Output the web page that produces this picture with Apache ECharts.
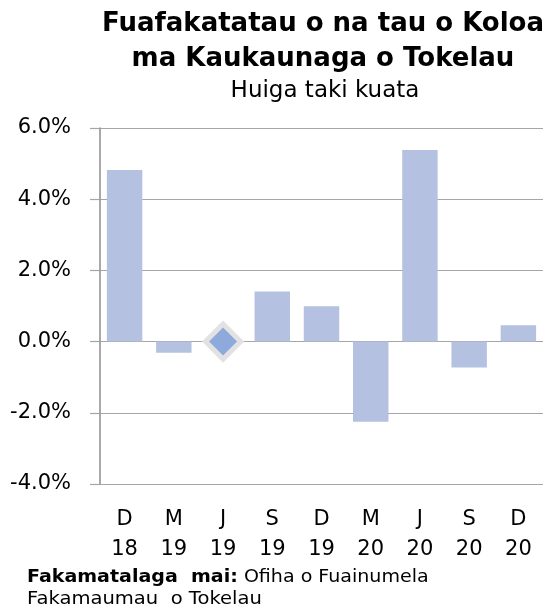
<!DOCTYPE html>
<html>
<head>
<meta charset="utf-8">
<script src="https://cdn.jsdelivr.net/npm/echarts@6/dist/echarts.min.js"></script>
<style>html,body{margin:0;padding:0;background:#fff}#c{width:546px;height:609px}</style>
</head>
<body>
<div id="c"></div>
<script>
const categories = ['D\n18', 'M\n19', 'J\n19', 'S\n19', 'D\n19', 'M\n20', 'J\n20', 'S\n20', 'D\n20'];
const barValues = [4.82, -0.31, null, 1.41, 0.99, -2.25, 5.38, -0.73, 0.46];
const markerValues = [null, null, 0.0, null, null, null, null, null, null];
const yTicks = { min: -4, max: 6, interval: 2 };
const titleText = 'Fuafakatatau o na tau o Koloa\nma Kaukaunaga o Tokelau';
const subtitleText = 'Huiga taki kuata';
const sourceLabel = 'Fakamatalaga  mai:';
const sourceText1 = ' Ofiha o Fuainumela';
const sourceText2 = 'Fakamaumau  o Tokelau';

const F = 'DejaVu Sans';
const chart = echarts.init(document.getElementById('c'));
chart.setOption({
  animation: false,
  backgroundColor: '#ffffff',
  title: [
    { text: titleText, left: 318, top: 2, textAlign: 'center',
      textStyle: { fontFamily: F, fontSize: 26, fontWeight: 'bold', color: '#000', lineHeight: 35 } },
    { text: subtitleText, left: 320, top: 72, textAlign: 'center',
      textStyle: { fontFamily: F, fontSize: 23, fontWeight: 'normal', color: '#000', lineHeight: 28 } }
  ],
  grid: { left: 100, right: 3, top: 128, bottom: 125, containLabel: false },
  xAxis: {
    type: 'category',
    data: categories,
    axisLine: { show: false },
    axisTick: { show: false },
    axisLabel: { fontFamily: F, fontSize: 21, color: '#000', lineHeight: 30, margin: 21, interval: 0 }
  },
  yAxis: {
    type: 'value',
    min: yTicks.min, max: yTicks.max, interval: yTicks.interval,
    axisLine: { show: true, lineStyle: { color: '#8c8c8c', width: 1.5 } },
    axisTick: { show: true, inside: false, length: 10, lineStyle: { color: '#a6a6a6', width: 1.2 } },
    splitLine: { show: true, lineStyle: { color: '#a6a6a6', width: 1.2 } },
    axisLabel: { fontFamily: F, fontSize: 21, color: '#000', margin: 29,
      formatter: v => v.toFixed(1) + '%' }
  },
  series: [
    { type: 'bar', data: barValues, barCategoryGap: '28%',
      itemStyle: { color: '#b4c1e1' }, z: 2 },
    { type: 'scatter', data: markerValues, symbol: 'diamond', symbolSize: 35,
      itemStyle: { color: '#8eaadc', borderColor: '#e2e2e2', borderWidth: 5, opacity: 1 }, z: 3 }
  ],
  graphic: [
    { type: 'text', x: 27, y: 569, scaleX: 1.12,
      style: { text: '{b|' + sourceLabel + '}{n|' + sourceText1 + '}', rich: {
        b: { fontFamily: F, fontSize: 17, fontWeight: 'bold', fill: '#000' },
        n: { fontFamily: F, fontSize: 17, fill: '#000' } } } },
    { type: 'text', x: 27, y: 591, scaleX: 1.15,
      style: { text: sourceText2, fontFamily: F, fontSize: 17, fill: '#000' } }
  ]
});
</script>
</body>
</html>
